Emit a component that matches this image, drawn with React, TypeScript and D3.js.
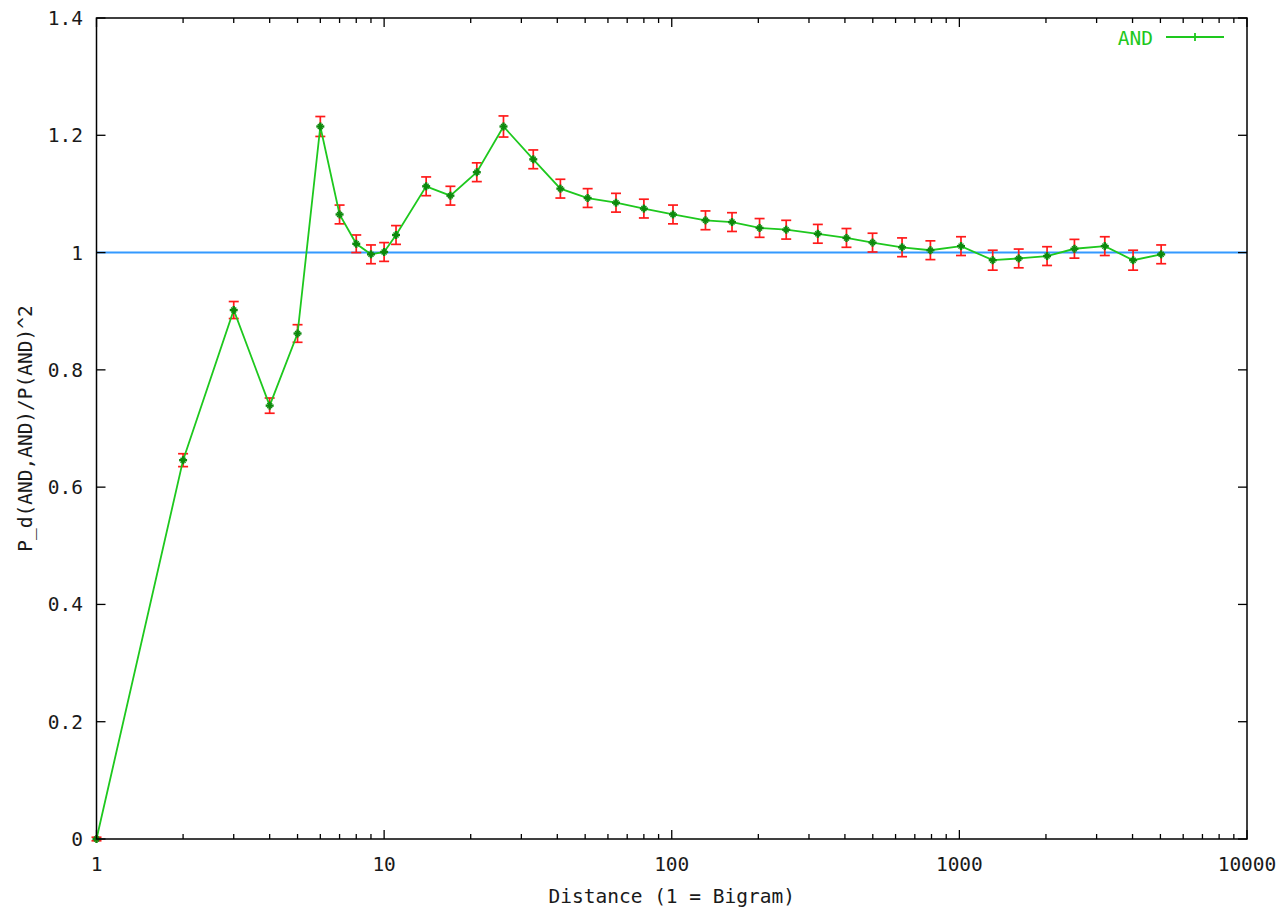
import React from "react";
import * as d3 from "d3";

const distances = [1, 2, 3, 4, 5, 6, 7, 8, 9, 10, 11, 14, 17, 21, 26, 33, 41, 51, 64, 80, 101, 131, 162, 202, 250, 322, 405, 499, 632, 793, 1013, 1306, 1608, 2018, 2512, 3203, 4018, 5030];
const ratios = [0, 0.646, 0.902, 0.739, 0.862, 1.215, 1.065, 1.015, 0.997, 1.001, 1.030, 1.113, 1.097, 1.137, 1.215, 1.159, 1.109, 1.093, 1.085, 1.075, 1.065, 1.055, 1.052, 1.042, 1.039, 1.032, 1.025, 1.017, 1.009, 1.004, 1.011, 0.987, 0.990, 0.994, 1.0065, 1.011, 0.987, 0.997];
const errors = [0.003, 0.011, 0.0145, 0.013, 0.015, 0.017, 0.016, 0.015, 0.016, 0.016, 0.016, 0.016, 0.016, 0.016, 0.018, 0.016, 0.016, 0.016, 0.016, 0.016, 0.016, 0.016, 0.016, 0.016, 0.016, 0.016, 0.016, 0.016, 0.016, 0.016, 0.016, 0.017, 0.016, 0.016, 0.016, 0.016, 0.017, 0.016];
const xTickValues = [1, 10, 100, 1000, 10000];
const yTickValues = [0, 0.2, 0.4, 0.6, 0.8, 1, 1.2, 1.4];
const seriesName = "AND";
const xTitle = "Distance (1 = Bigram)";
const yTitle = "P_d(AND,AND)/P(AND)^2";

const W = 1276;
const H = 909;
const L = 96.5, R = 1247, T = 18, B = 839;
const FONT = "'DejaVu Sans Mono', 'Liberation Mono', monospace";
const GREEN = "#1ec81e";
const RED = "#ff1a1a";
const BLUE = "#3399ff";
const TEXT = "#1a1a1a";

export default function App() {
  const x = d3.scaleLog().domain([1, 10000]).range([L, R]);
  const y = d3.scaleLinear().domain([0, 1.4]).range([B, T]);

  const data = distances.map((d, i) => ({ d, v: ratios[i], e: errors[i] }));
  const line = d3
    .line<{ d: number; v: number }>()
    .x((p) => x(p.d))
    .y((p) => y(p.v));

  const minor: number[] = [];
  for (let dec = 1; dec < 10000; dec *= 10) {
    for (let k = 2; k <= 9; k++) minor.push(dec * k);
  }

  return (
    <div style={{ position: "absolute", left: 0, top: 0 }}>
      <svg width={W} height={H} style={{ display: "block", background: "#fff" }}>
        <line x1={L} x2={R} y1={y(1)} y2={y(1)} stroke={BLUE} strokeWidth={2} />

        {yTickValues.map((t) => (
          <g key={"yt" + t}>
            <line x1={L} x2={L + 9} y1={y(t)} y2={y(t)} stroke="#000" strokeWidth={1.3} />
            <line x1={R} x2={R - 9} y1={y(t)} y2={y(t)} stroke="#000" strokeWidth={1.3} />
            <text x={83} y={y(t) + 7} textAnchor="end" fontFamily={FONT} fontSize={19.5} fill={TEXT}>
              {String(t)}
            </text>
          </g>
        ))}
        {xTickValues.map((t) => (
          <g key={"xt" + t}>
            <line x1={x(t)} x2={x(t)} y1={B} y2={B - 9} stroke="#000" strokeWidth={1.3} />
            <line x1={x(t)} x2={x(t)} y1={T} y2={T + 9} stroke="#000" strokeWidth={1.3} />
            <text x={x(t)} y={871} textAnchor="middle" fontFamily={FONT} fontSize={19.5} fill={TEXT}>
              {String(t)}
            </text>
          </g>
        ))}
        {minor.map((t) => (
          <g key={"mt" + t}>
            <line x1={x(t)} x2={x(t)} y1={B} y2={B - 5} stroke="#000" strokeWidth={1.3} />
            <line x1={x(t)} x2={x(t)} y1={T} y2={T + 5} stroke="#000" strokeWidth={1.3} />
          </g>
        ))}

        {data.map((p, i) => (
          <g key={"eb" + i} stroke={RED} strokeWidth={1.7}>
            <line x1={x(p.d)} x2={x(p.d)} y1={y(p.v - p.e)} y2={y(p.v + p.e)} />
            <line x1={x(p.d) - 5} x2={x(p.d) + 5} y1={y(p.v - p.e)} y2={y(p.v - p.e)} />
            <line x1={x(p.d) - 5} x2={x(p.d) + 5} y1={y(p.v + p.e)} y2={y(p.v + p.e)} />
          </g>
        ))}

        <path d={line(data) || ""} fill="none" stroke={GREEN} strokeWidth={1.8} />

        {data.map((p, i) => (
          <g key={"pt" + i} stroke="#0d8a0d" strokeWidth={2.4}>
            <line x1={x(p.d) - 4} x2={x(p.d) + 4} y1={y(p.v)} y2={y(p.v)} />
            <line x1={x(p.d)} x2={x(p.d)} y1={y(p.v) - 4} y2={y(p.v) + 4} />
            <line x1={x(p.d) - 2.5} x2={x(p.d) + 2.5} y1={y(p.v) - 2.5} y2={y(p.v) + 2.5} strokeWidth={1.4} />
            <line x1={x(p.d) - 2.5} x2={x(p.d) + 2.5} y1={y(p.v) + 2.5} y2={y(p.v) - 2.5} strokeWidth={1.4} />
          </g>
        ))}

        <rect x={L} y={T} width={R - L} height={B - T} fill="none" stroke="#000" strokeWidth={1.5} />

        <text x={1153} y={45} textAnchor="end" fontFamily={FONT} fontSize={19.5} fill={GREEN}>
          {seriesName}
        </text>
        <line x1={1166} x2={1224} y1={37} y2={37} stroke={GREEN} strokeWidth={1.8} />
        <line x1={1195} x2={1195} y1={33} y2={41} stroke={GREEN} strokeWidth={1.8} />

        <text x={(L + R) / 2} y={903} textAnchor="middle" fontFamily={FONT} fontSize={19.5} fill={TEXT}>
          {xTitle}
        </text>
        <text
          transform={`translate(32, ${(T + B) / 2}) rotate(-90)`}
          textAnchor="middle"
          fontFamily={FONT}
          fontSize={19.5}
          fill={TEXT}
        >
          {yTitle}
        </text>
      </svg>
    </div>
  );
}
